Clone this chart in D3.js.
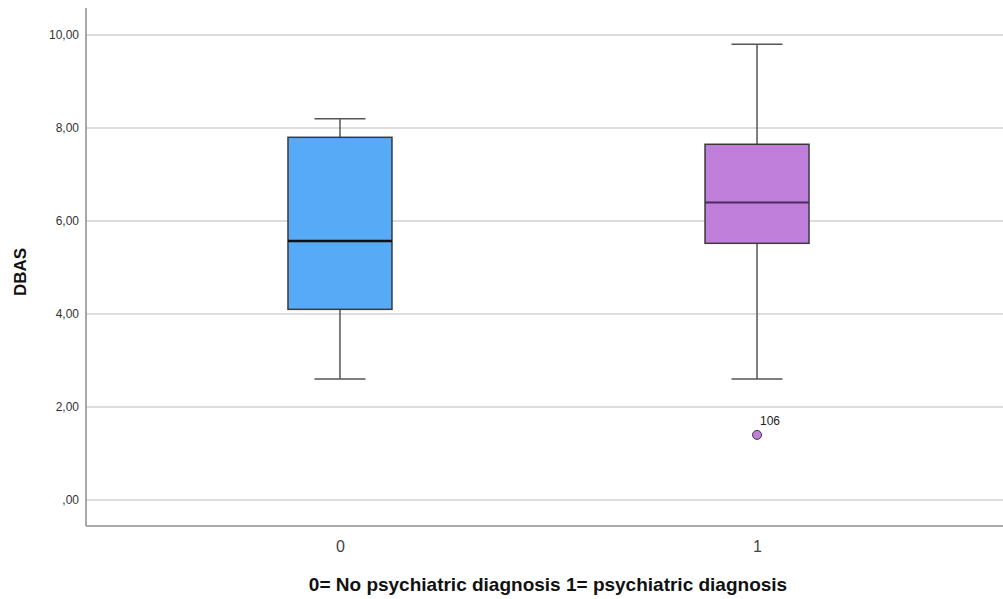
<!DOCTYPE html>
<html>
<head>
<meta charset="utf-8">
<script src="https://cdn.jsdelivr.net/npm/d3@7"></script>
<style>
  html, body { margin: 0; padding: 0; background: #fff; }
  svg { display: block; font-family: "Liberation Sans", Arial, sans-serif; }
</style>
</head>
<body>
<svg id="chart" width="1003" height="599"></svg>
<script>
// Groups and five-number summaries of DBAS per group
const groups = ["0", "1"];
const mins    = [2.6, 2.6];
const q1s     = [4.1, 5.52];
const medians = [5.57, 6.4];
const q3s     = [7.8, 7.65];
const maxs    = [8.2, 9.8];
const fills   = ["#56aaf6", "#c17fdc"];
// Outlying cases: group, value, case id
const outlierGroups = ["1"];
const outlierValues = [1.4];
const outlierIds    = ["106"];
const yTicks = [0, 2, 4, 6, 8, 10];

const fmt = v => (v === 0 ? ",00" : v.toFixed(2).replace(".", ","));

const svg = d3.select("#chart");
const plotLeft = 86, plotBottom = 526, plotTop = 8, plotRight = 1011;

const y = d3.scaleLinear().domain([0, 10]).range([500, 35]);
const x = d3.scalePoint().domain(groups).range([plotLeft, plotRight]).padding(0.609);

// Horizontal gridlines
svg.append("g").selectAll("line").data(yTicks).join("line")
  .attr("x1", plotLeft).attr("x2", 1003)
  .attr("y1", d => y(d)).attr("y2", d => y(d))
  .attr("stroke", "#d2d2d2").attr("stroke-width", 1.5);

// Y axis
const yAxis = svg.append("g").attr("transform", `translate(${plotLeft},0)`)
  .call(d3.axisLeft(y).tickValues(yTicks).tickFormat(fmt).tickSize(0).tickPadding(7));
yAxis.select(".domain").remove();
yAxis.selectAll("text").attr("font-size", 12).attr("fill", "#333")
  .attr("font-family", "'Liberation Sans', Arial, sans-serif");

// Axis frame lines
svg.append("line").attr("x1", plotLeft).attr("x2", plotLeft).attr("y1", plotTop).attr("y2", plotBottom)
  .attr("stroke", "#8c8c8c").attr("stroke-width", 1.5);
svg.append("line").attr("x1", plotLeft).attr("x2", 1003).attr("y1", plotBottom).attr("y2", plotBottom)
  .attr("stroke", "#8c8c8c").attr("stroke-width", 1.5);

// X axis category labels
const xAxis = svg.append("g").attr("transform", `translate(0,${plotBottom})`)
  .call(d3.axisBottom(x).tickSize(0).tickPadding(15));
xAxis.select(".domain").remove();
xAxis.selectAll("text").attr("font-size", 16).attr("fill", "#444")
  .attr("font-family", "'Liberation Sans', Arial, sans-serif");

// Box plots
const boxW = 104, capW = 51;
const boxes = svg.append("g").selectAll("g").data(groups).join("g")
  .attr("transform", d => `translate(${x(d)},0)`);

boxes.append("line")
  .attr("x1", 0).attr("x2", 0)
  .attr("y1", (d, i) => y(maxs[i])).attr("y2", (d, i) => y(q3s[i]))
  .attr("stroke", "#555").attr("stroke-width", 1.5);
boxes.append("line")
  .attr("x1", 0).attr("x2", 0)
  .attr("y1", (d, i) => y(q1s[i])).attr("y2", (d, i) => y(mins[i]))
  .attr("stroke", "#555").attr("stroke-width", 1.5);
boxes.append("line")
  .attr("x1", -capW / 2).attr("x2", capW / 2)
  .attr("y1", (d, i) => y(maxs[i])).attr("y2", (d, i) => y(maxs[i]))
  .attr("stroke", "#555").attr("stroke-width", 1.5);
boxes.append("line")
  .attr("x1", -capW / 2).attr("x2", capW / 2)
  .attr("y1", (d, i) => y(mins[i])).attr("y2", (d, i) => y(mins[i]))
  .attr("stroke", "#555").attr("stroke-width", 1.5);
boxes.append("rect")
  .attr("x", -boxW / 2).attr("width", boxW)
  .attr("y", (d, i) => y(q3s[i]))
  .attr("height", (d, i) => y(q1s[i]) - y(q3s[i]))
  .attr("fill", (d, i) => fills[i])
  .attr("stroke", "#3a3a3a").attr("stroke-width", 1.5);
boxes.append("line")
  .attr("x1", -boxW / 2).attr("x2", boxW / 2)
  .attr("y1", (d, i) => y(medians[i])).attr("y2", (d, i) => y(medians[i]))
  .attr("stroke", (d, i) => i === 0 ? "#111" : "#4a2a5a")
  .attr("stroke-width", (d, i) => i === 0 ? 2.5 : 2);

// Outliers with case labels
const outs = svg.append("g").selectAll("g").data(outlierValues).join("g");
outs.append("circle")
  .attr("cx", (d, i) => x(outlierGroups[i]))
  .attr("cy", d => y(d))
  .attr("r", 4.5)
  .attr("fill", (d, i) => fills[groups.indexOf(outlierGroups[i])])
  .attr("stroke", "#3a3a3a").attr("stroke-width", 1);
outs.append("text")
  .attr("x", (d, i) => x(outlierGroups[i]) + 3)
  .attr("y", d => y(d) - 10)
  .attr("font-size", 12).attr("fill", "#222")
  .text((d, i) => outlierIds[i]);

// Axis titles
svg.append("text")
  .attr("transform", `translate(26,${(plotTop + plotBottom) / 2 + 5}) rotate(-90)`)
  .attr("text-anchor", "middle")
  .attr("font-size", 17).attr("font-weight", "bold").attr("fill", "#111")
  .text("DBAS");
svg.append("text")
  .attr("x", 548).attr("y", 591)
  .attr("text-anchor", "middle")
  .attr("font-size", 19).attr("font-weight", "bold").attr("fill", "#111")
  .text("0= No psychiatric diagnosis 1= psychiatric diagnosis");
</script>
</body>
</html>
